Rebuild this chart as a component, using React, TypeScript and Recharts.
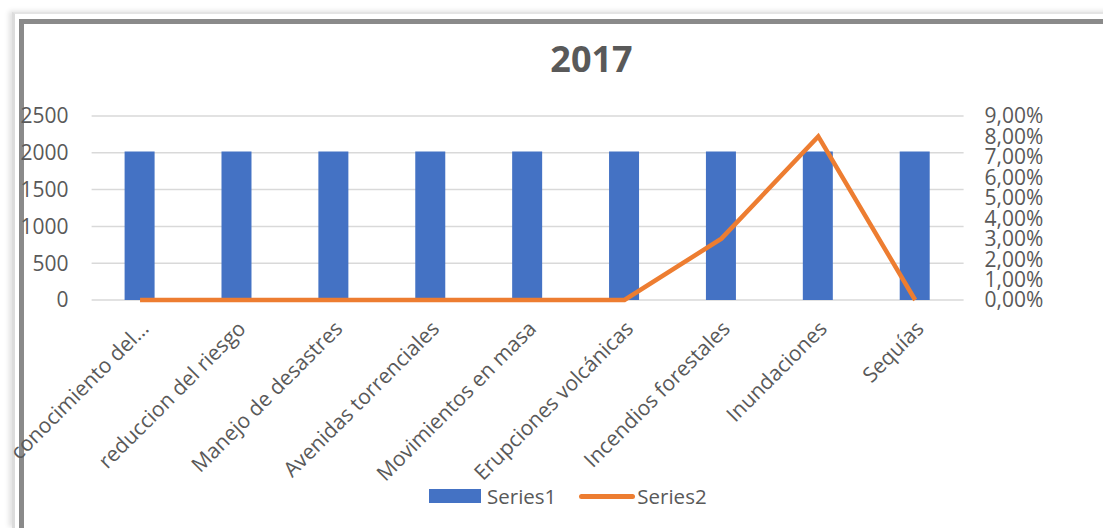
import {
  Bar,
  CartesianGrid,
  ComposedChart,
  Line,
  XAxis,
  YAxis,
} from "recharts";

const categories = [
  "conocimiento del…",
  "reduccion del riesgo",
  "Manejo de desastres",
  "Avenidas torrenciales",
  "Movimientos en masa",
  "Erupciones volcánicas",
  "Incendios forestales",
  "Inundaciones",
  "Sequías",
];
const series1 = [2017, 2017, 2017, 2017, 2017, 2017, 2017, 2017, 2017];
const series2 = [0, 0, 0, 0, 0, 0, 0.03, 0.08, 0];
const leftTicks = [0, 500, 1000, 1500, 2000, 2500];
const rightTicks = [0, 0.01, 0.02, 0.03, 0.04, 0.05, 0.06, 0.07, 0.08, 0.09];

const data = categories.map((name, i) => ({
  name,
  s1: series1[i],
  s2: series2[i],
}));

const FONT = "'Open Sans', 'Noto Sans', sans-serif";
const TEXT = "#595959";
const BLUE = "#4472C4";
const ORANGE = "#ED7D31";

function CatTick(props: any) {
  const { x, y, payload } = props;
  const tx = x + 10;
  const ty = y + 22;
  return (
    <text
      x={tx}
      y={ty}
      transform={`rotate(-45 ${tx} ${ty})`}
      textAnchor="end"
      fill={TEXT}
      fontSize={21}
      fontFamily={FONT}
    >
      {payload.value}
    </text>
  );
}

const pct = (v: number) => (v * 100).toFixed(2).replace(".", ",") + "%";

export default function App() {
  return (
    <div
      style={{
        position: "fixed",
        left: 0,
        top: 0,
        width: 1103,
        height: 528,
        background: "#fff",
        overflow: "hidden",
        fontFamily: FONT,
      }}
    >
      <style>{`html, body { margin: 0; overflow: hidden; }`}</style>
      {/* outer light frame */}
      <div
        style={{
          position: "absolute",
          left: 12,
          top: 12,
          width: 1120,
          height: 514,
          borderTop: "2px solid #e4e4e4",
          borderLeft: "3px solid #dcdcdc",
          boxShadow: "-3px -1px 5px rgba(0,0,0,0.12)",
        }}
      />
      {/* inner dark frame */}
      <div
        style={{
          position: "absolute",
          left: 19,
          top: 19,
          width: 1120,
          height: 505,
          borderTop: "5px solid #8a8a8a",
          borderLeft: "5px solid #8a8a8a",
          borderBottom: "2px solid #d4d4d4",
          background: "#fff",
        }}
      />
      <div
        style={{
          position: "absolute",
          left: 0,
          width: 1183,
          top: 36,
          textAlign: "center",
          fontSize: 36,
          fontWeight: 700,
          color: TEXT,
          lineHeight: "46px",
        }}
      >
        2017
      </div>
      <div style={{ position: "absolute", left: 0, top: 0 }}>
        <ComposedChart
          width={1103}
          height={528}
          data={data}
          margin={{ top: 116, right: 20, bottom: 78, left: 20 }}
        >
          <CartesianGrid
            yAxisId="left"
            vertical={false}
            stroke="#d9d9d9"
            strokeWidth={1.5}
          />
          <XAxis
            dataKey="name"
            axisLine={false}
            tickLine={false}
            interval={0}
            height={150}
            tick={<CatTick />}
          />
          <YAxis
            yAxisId="left"
            domain={[0, 2500]}
            ticks={leftTicks}
            interval={0}
            width={71.6}
            axisLine={false}
            tickLine={false}
            tickMargin={17}
            tick={{ fill: TEXT, fontSize: 21, fontFamily: FONT }}
          />
          <YAxis
            yAxisId="right"
            orientation="right"
            domain={[0, 0.09]}
            ticks={rightTicks}
            interval={0}
            width={119.4}
            axisLine={false}
            tickLine={false}
            tickMargin={15}
            tickFormatter={pct}
            tick={{
              fill: TEXT,
              fontSize: 21,
              fontFamily: FONT,
              textAnchor: "start",
            }}
          />
          <Bar
            yAxisId="left"
            dataKey="s1"
            fill={BLUE}
            barSize={30}
            isAnimationActive={false}
          />
          <Line
            yAxisId="right"
            dataKey="s2"
            type="linear"
            stroke={ORANGE}
            strokeWidth={4.5}
            dot={false}
            activeDot={false}
            isAnimationActive={false}
          />
        </ComposedChart>
      </div>
      {/* legend */}
      <div
        style={{
          position: "absolute",
          left: 429,
          top: 482,
          display: "flex",
          alignItems: "center",
          fontSize: 20.5,
          color: TEXT,
          lineHeight: "28px",
        }}
      >
        <span
          style={{
            display: "inline-block",
            width: 52,
            height: 14,
            background: BLUE,
            marginRight: 6,
          }}
        />
        <span>Series1</span>
        <span
          style={{
            display: "inline-block",
            width: 56,
            height: 5,
            borderRadius: 3,
            background: ORANGE,
            marginLeft: 23,
            marginRight: 2,
          }}
        />
        <span>Series2</span>
      </div>
    </div>
  );
}
